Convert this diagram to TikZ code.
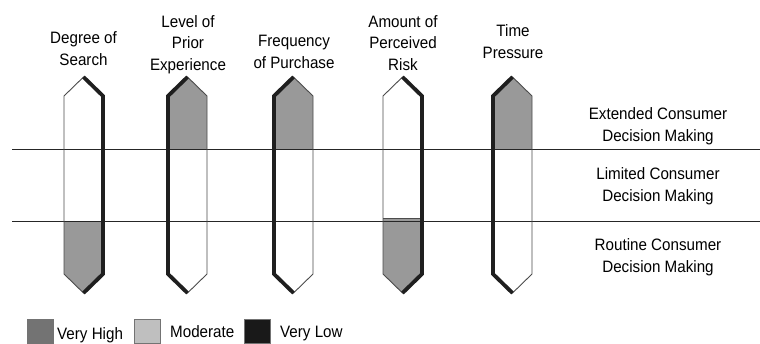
\documentclass[tikz,border=0pt]{standalone}
\usepackage{fontspec}
\setmainfont{Liberation Sans}
\newcommand\decbar[4]{% #1 left x, #2 shade top/bottom, #3 thick side, #4 shade start (bottom case)
  \pgfmathsetmacro\bL{#1}\pgfmathsetmacro\bC{#1+19.5}\pgfmathsetmacro\bR{#1+39}%
  \fill[white] (\bC,77) -- (\bR,96) -- (\bR,274) -- (\bC,293) -- (\bL,274) -- (\bL,96) -- cycle;
  \ifx#2t\fill[shadefill] (\bC,77) -- (\bR,96) -- (\bR,149) -- (\bL,149) -- (\bL,96) -- cycle;
  \else\fill[shadefill] (\bL,#4) -- (\bR,#4) -- (\bR,274) -- (\bC,293) -- (\bL,274) -- cycle;
    \draw[thinedge] (\bL,#4) -- (\bR,#4);\fi
}
\newcommand\decbaredge[2]{% #1 left x, #2 thick side l/r
  \pgfmathsetmacro\bL{#1}\pgfmathsetmacro\bC{#1+19.5}\pgfmathsetmacro\bR{#1+39}%
  \draw[thinedge] (\bC,77) -- (\bR,96) -- (\bR,274) -- (\bC,293) -- (\bL,274) -- (\bL,96) -- cycle;
  \ifx#2r\draw[thickedge] (\bC,77) -- (\bR,96) -- (\bR,274) -- (\bC,293);
  \else\draw[thickedge] (\bC,77) -- (\bL,96) -- (\bL,274) -- (\bC,293);\fi
}
\begin{document}
\begin{tikzpicture}[x=1pt,y=-1pt,
  lbl/.style={font=\fontsize{16.5}{21.5}\selectfont, align=center, xscale=0.92, inner sep=0pt},
  thinedge/.style={draw=black!70, line width=0.9pt},
  thickedge/.style={draw=black!88, line width=3.8pt, line join=miter},
  shadefill/.style={fill=black!40},
  level/.style={draw=black!85, line width=0.9pt},
  legbox/.style={draw=black!55, line width=0.8pt}]
\useasboundingbox (0,0) rectangle (760,343);
% bar fills
\decbar{64}{b}{r}{221}
\decbar{168}{t}{l}{0}
\decbar{274}{t}{l}{0}
\decbar{383}{b}{r}{218}
\decbar{493}{t}{l}{0}
% level lines
\coordinate (l1a) at (12,149); \coordinate (l1b) at (760,149);
\coordinate (l2a) at (12,221); \coordinate (l2b) at (760,221);
\draw[level] (l1a) -- (l1b);
\draw[level] (l2a) -- (l2b);
% bar outlines
\decbaredge{64}{r}
\decbaredge{168}{l}
\decbaredge{274}{l}
\decbaredge{383}{r}
\decbaredge{493}{l}
% column titles
\node[lbl, anchor=base] (t1) at (83.5,65) {Degree of\\Search};
\node[lbl, anchor=base] (t2) at (188,70) {Level of\\Prior\\Experience};
\node[lbl, anchor=base] (t3) at (294,68) {Frequency\\of Purchase};
\node[lbl, anchor=base] (t4) at (403,70) {Amount of\\Perceived\\Risk};
\node[lbl, anchor=base] (t5) at (513,58) {Time\\Pressure};
% row labels
\node[lbl, anchor=base] (r1) at (658,141) {Extended Consumer\\Decision Making};
\node[lbl, anchor=base] (r2) at (658,201) {Limited Consumer\\Decision Making};
\node[lbl, anchor=base] (r3) at (658,272) {Routine Consumer\\Decision Making};
% legend
\node[legbox, fill=black!55, minimum width=26pt, minimum height=24pt, inner sep=0, anchor=north west] (k1) at (27,319) {};
\node[lbl, anchor=base west] (k1t) at (57,339) {Very High};
\node[legbox, fill=black!25, minimum width=26pt, minimum height=24pt, inner sep=0, anchor=north west] (k2) at (134,319) {};
\node[lbl, anchor=base west] (k2t) at (170,337) {Moderate};
\node[legbox, fill=black!90, minimum width=26pt, minimum height=24pt, inner sep=0, anchor=north west] (k3) at (244,319) {};
\node[lbl, anchor=base west] (k3t) at (280,337) {Very Low};
\end{tikzpicture}
\end{document}
